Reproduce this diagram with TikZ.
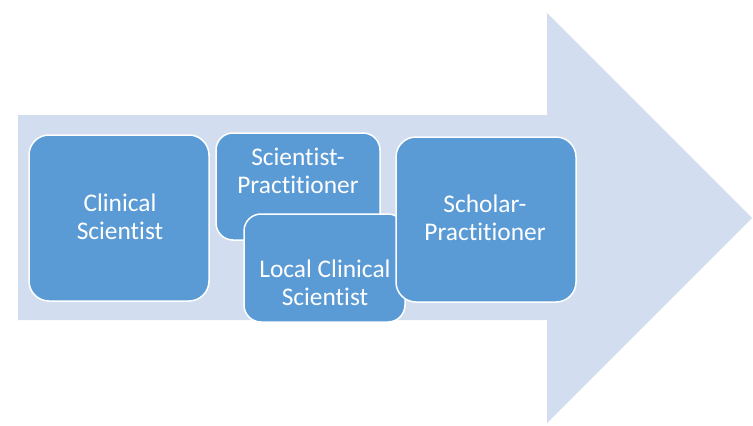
\documentclass[tikz,border=0pt]{standalone}
\usepackage{fontspec}
\setmainfont{Carlito}[RawFeature={-liga;-calt;-dlig;-clig}]
\definecolor{arrowfill}{RGB}{210,222,239}
\definecolor{boxfill}{RGB}{91,155,213}
\newcommand{\nb}{\kern0pt }
\begin{document}
\begin{tikzpicture}[x=1pt,y=-1pt,
  box/.style={draw=white, line width=1.5pt, fill=boxfill, rounded corners=#1, inner sep=0pt},
  box/.default=20pt,
  lbl/.style={text=white, align=center, font=\fontsize{25.4}{27.5}\selectfont, inner sep=0pt}]
\useasboundingbox (0,0) rectangle (753,426);
\fill[arrowfill] (18,115) -- (547,115) -- (547,13) -- (752,218) -- (547,423) -- (547,320) -- (18,320) -- cycle;
\node[box, minimum width=180pt, minimum height=166pt] (cs) at (119,218) {};
\node[lbl] (cst) at (120,217) {Clinical\\Scient\nb ist};
\node[box=17pt, minimum width=164pt, minimum height=107pt] (sp) at (298,186.5) {};
\node[lbl] (spt) at (298,171) {Scient\nb ist-\\Pract\nb it\nb ioner};
\node[box=17pt, minimum width=161pt, minimum height=108pt] (lcs) at (324.5,268) {};
\node[lbl] (lcst) at (325,283) {Local Clinical\\Scient\nb ist};
\node[box, minimum width=180pt, minimum height=165pt] (schp) at (486,219.5) {};
\node[lbl] (schpt) at (485,218) {Scholar-\\Pract\nb it\nb ioner};
\end{tikzpicture}
\end{document}
